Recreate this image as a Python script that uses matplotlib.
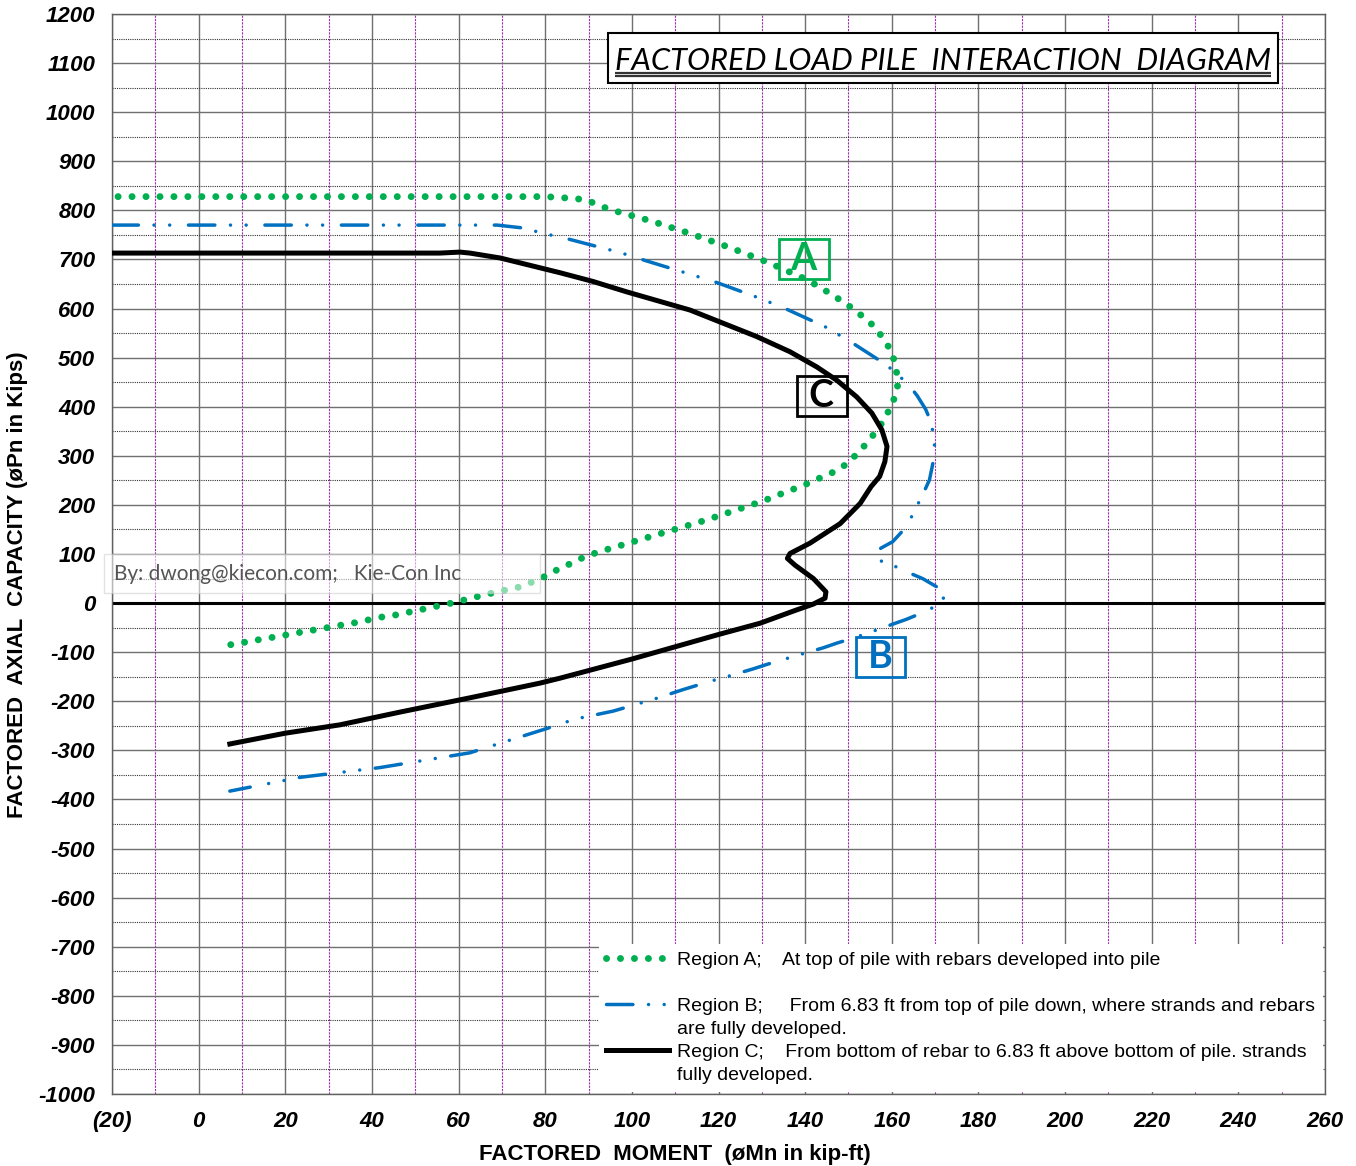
import matplotlib
matplotlib.use("Agg")
import matplotlib.pyplot as plt
from matplotlib.lines import Line2D
from matplotlib.patches import Rectangle

# Region A: top of pile, rebars developed
xa = [-18.6, 0, 20, 40, 60, 80, 85.3, 89.2, 94.8, 104.2, 113.4, 122.7, 131.7, 140.6, 146.3,
      151.5, 156.3, 160.1, 161.5, 161.1, 158.4, 154.6, 150.1, 147.4, 144.4, 141.5, 138.5,
      135.4, 132.4, 129.3, 126.2, 123.2, 120.1, 117.1, 91.9, 88.8, 86.0, 83.0, 80.1, 77.3,
      74.2, 71.1, 68.0, 64.7, 61.6, 58.4, 55.2, 52.0, 48.8, 45.6, 42.5, 39.3, 36.1, 32.8,
      29.7, 26.5, 23.2, 20.1, 16.9, 13.6, 10.5, 7.2]
ya = [828, 828, 828, 828, 828, 828, 825, 822, 802, 779, 753, 724, 693, 658, 628,
      597, 561, 511, 454, 427, 375, 329, 287, 270, 259, 247, 236,
      226, 215, 205, 196, 187, 178, 169, 103, 93, 81, 69, 55, 44,
      33, 27, 21, 14, 7, 0, -6, -12, -18, -24, -28, -34, -40, -45,
      -50, -55, -60, -65, -70, -75, -80, -85]

# Region B: strands and rebars fully developed
xb = [-20, 0, 20, 40, 60, 68.9, 75.0, 80.0, 83.4, 86.9, 97.3, 103.4, 113.4, 119.6, 129.2,
      135.4, 144.6, 150.2, 158.8, 163.8, 165.9, 167.8, 169.2, 170.0, 169.4, 168.7, 167.3,
      164.4, 162.5, 160.2, 157.5, 156.5, 157.7, 160.7, 163.9, 167.1, 170.4, 172.3, 171.1,
      170.0, 166.7, 163.4, 160.2, 154.2, 150.9, 147.5, 144.2, 138.0, 131.5, 128.0, 121.9,
      118.6, 111.9, 105.7, 99.2, 95.7, 86.5, 83.4, 62.6, 41.9, 23.4, 7.2]
yb = [770, 770, 770, 770, 770, 770, 764, 752, 746, 738, 714, 697, 670, 653, 622,
      600, 563, 534, 485, 446, 422, 395, 366, 312, 281, 251, 224,
      173, 147, 125, 112, 103, 84, 75, 62, 50, 33, 15, 0,
      -7, -21, -33, -43, -62, -72, -81, -91, -107, -124, -134, -150,
      -158, -176, -194, -211, -220, -237, -247, -305, -335, -355, -383]

# Region C: bottom of rebar to 6.83 ft above bottom of pile
xc = [-20, 0, 20, 40, 55.7, 60.3, 62.6, 69.6, 78.8, 83.4, 91.1, 98.8, 113.4, 121.1, 128.8,
      136.5, 142.7, 147.3, 151.9, 155.4, 157.7, 158.9, 158.4, 157.2, 155.2, 152.7, 148.1, 141.1,
      136.5, 135.9, 137.7, 141.9, 144.8, 144.6, 141.9, 138.0, 129.6, 120.0, 110.0, 100.0,
      83.4, 78.8, 62.6, 46.5, 32.6, 20.0, 7.2]
yc = [713, 713, 713, 713, 713, 715, 713, 703, 683, 673, 655, 634, 597, 570, 543,
      512, 481, 454, 420, 387, 353, 319, 288, 258, 237, 203, 162, 122,
      101, 91, 77, 50, 23, 10, -2, -14, -41, -64, -89, -114,
      -153, -163, -193, -222, -248, -265, -287]

xticks = list(range(-20, 261, 20))
yticks = list(range(-1000, 1201, 100))

green = "#00b050"
blue = "#0070c0"

fig = plt.figure(figsize=(13.56, 11.66), dpi=100)
ax = fig.add_axes([112 / 1356, 1 - 1094 / 1166, 1213 / 1356, 1080 / 1166])
ax.set_xlim(-20, 260)
ax.set_ylim(-1000, 1200)

# grid
ax.set_xticks(xticks)
ax.set_xticks(list(range(-10, 260, 20)), minor=True)
ax.set_yticks(yticks)
ax.set_yticks(list(range(-950, 1200, 100)), minor=True)
ax.grid(which="major", axis="both", color="#707070", lw=1.0)
ax.grid(which="minor", axis="x", color="#a030b0", lw=0.8, linestyle=(0, (2, 1)))
ax.grid(which="minor", axis="y", color="#333333", lw=0.8, linestyle=(0, (1, 1)))
ax.set_axisbelow(True)
for s in ax.spines.values():
    s.set_color("#606060")
    s.set_linewidth(1.0)
ax.tick_params(which="both", length=0)
ax.tick_params(axis="y", pad=12)
ax.tick_params(axis="x", pad=12)
ax.set_xticklabels(["(%d)" % -v if v < 0 else str(v) for v in xticks],
                   fontsize=16, fontweight="bold", fontstyle="italic", family="Liberation Sans")
ax.set_yticklabels([str(v) for v in yticks],
                   fontsize=16, fontweight="bold", fontstyle="italic", family="Liberation Sans")

ax.axhline(0, color="black", lw=2.2, zorder=2)

la, = ax.plot(xa, ya, color=green, lw=5, linestyle=(0, (0.01, 2.0)),
              dash_capstyle="round", zorder=4)
lb, = ax.plot(xb, yb, color=blue, lw=2.5,
              linestyle=(0, (7.6, 4.5, 0.01, 4.5, 0.01, 5.4)),
              dash_capstyle="round", zorder=4)
lc, = ax.plot(xc, yc, color="black", lw=3.6, zorder=4, solid_joinstyle="round")

# region labels
box_font = dict(fontsize=27, fontweight="bold", family="Lato", ha="center", va="center", zorder=6)
ax.text(139.7, 700, " A ", color=green,
        bbox=dict(boxstyle="square,pad=0.08", fc="none", ec=green, lw=2), **box_font)
ax.text(143.9, 422, " C ", color="black",
        bbox=dict(boxstyle="square,pad=0.08", fc="none", ec="black", lw=2), **box_font)
ax.text(157.3, -110, " B ", color=blue,
        bbox=dict(boxstyle="square,pad=0.08", fc="none", ec=blue, lw=2), **box_font)

# watermark
ax.text(-19.6, 60, "By: dwong@kiecon.com;   Kie-Con Inc" + " " * 13, color="#555555",
        fontsize=15, family="Lato", ha="left", va="center", zorder=5,
        bbox=dict(boxstyle="square,pad=0.45", fc="white", ec="#cccccc", lw=1, alpha=0.55))

# title box
ax.add_patch(Rectangle((0.4089, 0.9361), 0.5524, 0.0463, transform=ax.transAxes,
                       fc="white", ec="black", lw=1.5, zorder=6))
ttl = ax.text(0.685, 0.9481, "FACTORED LOAD PILE  INTERACTION  DIAGRAM", transform=ax.transAxes,
              fontsize=22.2, fontstyle="italic", family="Lato", ha="center", va="baseline", zorder=7)
fig.canvas.draw()
bb = ttl.get_window_extent().transformed(ax.transAxes.inverted())
for dy in (2.5 / 1080, 5.5 / 1080):
    ax.plot([bb.x0, bb.x1], [0.9481 - dy] * 2, transform=ax.transAxes, color="#333333",
            lw=1.6, zorder=7, solid_capstyle="butt")

ax.set_xlabel("FACTORED  MOMENT  (øMn in kip-ft)", fontsize=16, fontweight="bold",
              family="Liberation Sans")
ax.xaxis.set_label_coords(0.464, -0.046)
ax.set_ylabel("FACTORED  AXIAL  CAPACITY (øPn in Kips)", fontsize=16, fontweight="bold",
              family="Liberation Sans")
ax.yaxis.set_label_coords(-0.0775, 0.472)
ax.yaxis.label.set_va("center")

blank = Line2D([], [], linestyle="none")
leg = ax.legend([la, blank, lb, blank, lc, blank],
                ["Region A;    At top of pile with rebars developed into pile",
                 " ",
                 "Region B;     From 6.83 ft from top of pile down, where strands and rebars",
                 "are fully developed.",
                 "Region C;    From bottom of rebar to 6.83 ft above bottom of pile. strands",
                 "fully developed."],
                loc="lower right", bbox_to_anchor=(1, 0), borderaxespad=0.1,
                prop=dict(family="Liberation Sans", size=14), labelspacing=0.28,
                handlelength=3.2, handletextpad=0.45, frameon=True, fancybox=False,
                facecolor="white", edgecolor="none", framealpha=1)
leg.set_zorder(8)

fig.savefig("out.png", dpi=100)
